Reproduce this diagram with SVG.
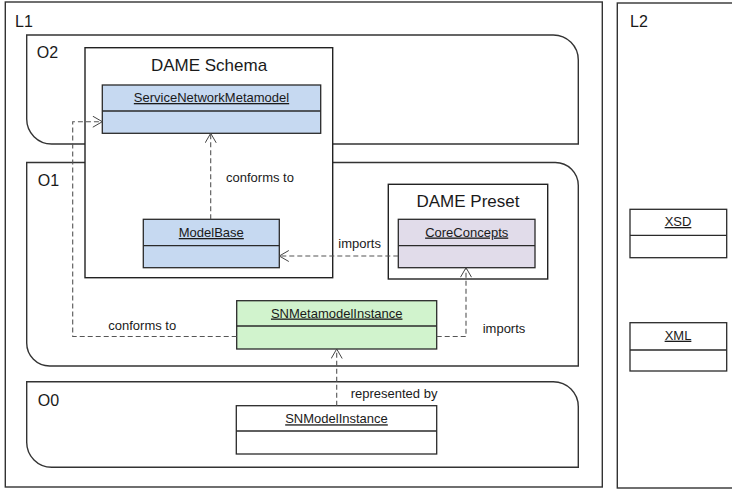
<svg xmlns="http://www.w3.org/2000/svg" width="732" height="489" viewBox="0 0 732 489">
<defs>
<marker id="open" viewBox="0 0 10 12" refX="10" refY="6" markerWidth="10" markerHeight="12" markerUnits="userSpaceOnUse" orient="auto">
<path d="M0.5,0.5 L10,6 L0.5,11.5" fill="none" stroke="#444" stroke-width="1"/>
</marker>
<style>
text{font-family:"Liberation Sans",Arial,sans-serif;fill:#1a1a1a}
.frame{fill:#fff;stroke:#333;stroke-width:1.4}
.layer{font-size:16px}
.pkg{fill:#fff;stroke:#222;stroke-width:1.4}
.pkgt{font-size:17px;text-anchor:middle}
.cls{stroke:#2a2a2a;stroke-width:1.3}
.cn{font-size:13px;text-anchor:middle;text-decoration:underline}
.blue{fill:#c6d9f1}
.lav{fill:#e1dcea}
.green{fill:#d1f3cd}
.white{fill:#fff}
.dash{fill:none;stroke:#555;stroke-width:1.1;stroke-dasharray:5 3;marker-end:url(#open)}
.lbl{font-size:13px}
</style>
</defs>

<g id="L1"><rect class="frame" x="5.3" y="2" width="597" height="485"/><text class="layer" x="15" y="26.5">L1</text></g>
<g id="L2"><rect class="frame" x="617.3" y="3" width="140" height="485"/><text class="layer" x="630" y="26.5">L2</text></g>

<g id="O2"><path class="frame" d="M26.7,35 H553.3 A25,25 0 0 1 578.3,60 V144 H51.7 A25,25 0 0 1 26.7,119 Z"/><text class="layer" x="36.7" y="58.3">O2</text></g>
<g id="O1"><path class="frame" d="M26.7,162.5 H555.3 A23,23 0 0 1 578.3,185.5 V366 H49.7 A23,23 0 0 1 26.7,343 Z"/><text class="layer" x="37.7" y="186">O1</text></g>
<g id="O0"><path class="frame" d="M26.7,381.7 H553.3 A25,25 0 0 1 578.3,406.7 V467.3 H51.7 A25,25 0 0 1 26.7,442.3 Z"/><text class="layer" x="37.7" y="406">O0</text></g>

<g id="DAMESchema"><rect class="pkg" x="85" y="47.7" width="247.7" height="230"/><text class="pkgt" x="209" y="71">DAME Schema</text></g>
<g id="DAMEPreset"><rect class="pkg" x="388.3" y="184.3" width="159.4" height="94.7"/><text class="pkgt" x="468" y="207.3">DAME Preset</text></g>

<g id="ServiceNetworkMetamodel"><rect class="cls blue" x="102.3" y="85" width="218.4" height="48.3"/><line class="cls" x1="102.3" y1="111" x2="320.7" y2="111"/><text class="cn" x="211.5" y="102">ServiceNetworkMetamodel</text></g>
<g id="ModelBase"><rect class="cls blue" x="143.3" y="219.3" width="136" height="48.4"/><line class="cls" x1="143.3" y1="245.7" x2="279.3" y2="245.7"/><text class="cn" x="211.3" y="237">ModelBase</text></g>
<g id="CoreConcepts"><rect class="cls lav" x="398.3" y="219.3" width="136.7" height="48.4"/><line class="cls" x1="398.3" y1="245.7" x2="535" y2="245.7"/><text class="cn" x="466.7" y="236.5">CoreConcepts</text></g>
<g id="SNMetamodelInstance"><rect class="cls green" x="236.7" y="300.7" width="200" height="48.3"/><line class="cls" x1="236.7" y1="326" x2="436.7" y2="326"/><text class="cn" x="336.7" y="317.5">SNMetamodelInstance</text></g>
<g id="SNModelInstance"><rect class="cls white" x="236.3" y="405.7" width="200.4" height="48.3"/><line class="cls" x1="236.3" y1="431" x2="436.7" y2="431"/><text class="cn" x="336.5" y="423.3">SNModelInstance</text></g>
<g id="XSD"><rect class="cls white" x="630" y="209.3" width="96.7" height="48.4"/><line class="cls" x1="630" y1="235.3" x2="726.7" y2="235.3"/><text class="cn" x="678" y="226">XSD</text></g>
<g id="XML"><rect class="cls white" x="630" y="322.7" width="96.7" height="48.3"/><line class="cls" x1="630" y1="350" x2="726.7" y2="350"/><text class="cn" x="678" y="339.7">XML</text></g>

<g id="connectors">
<path class="dash" d="M236.7,336.5 H72.7 V121.7 H102.3"/>
<path class="dash" d="M210.7,219.3 V133.3"/>
<path class="dash" d="M398.3,256 H279.3"/>
<path class="dash" d="M436.7,336.5 H466 V267.7"/>
<path class="dash" d="M336.7,405.7 V349"/>
<text class="lbl" x="226" y="182.3">conforms to</text>
<text class="lbl" x="108.3" y="330">conforms to</text>
<text class="lbl" x="338.3" y="248.3">imports</text>
<text class="lbl" x="482.7" y="332.7">imports</text>
<text class="lbl" x="350.7" y="398.3">represented by</text>
</g>
</svg>
